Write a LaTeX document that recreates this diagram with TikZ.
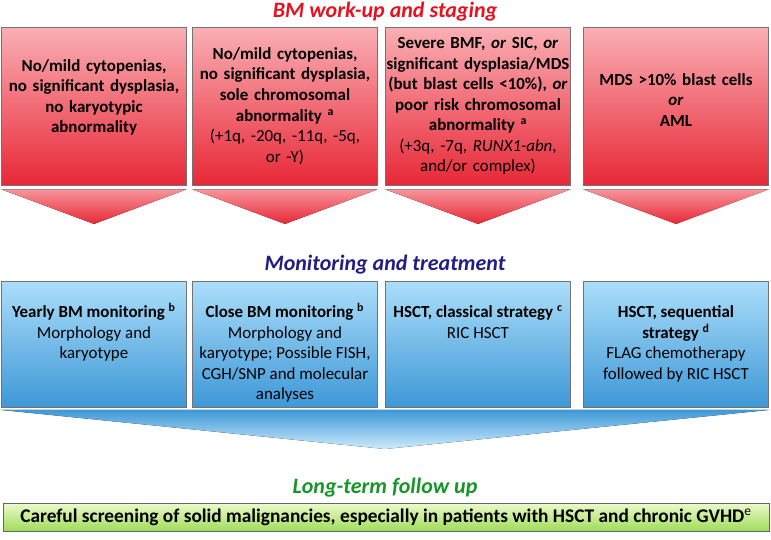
\documentclass[tikz,border=0pt]{standalone}
\usepackage{fontspec}
\setmainfont{Carlito}
\usetikzlibrary{positioning}
\definecolor{redtitle}{RGB}{232,18,30}
\definecolor{redtop}{RGB}{250,175,180}
\definecolor{redbot}{RGB}{232,40,55}
\definecolor{bluetitle}{RGB}{32,30,130}
\definecolor{bluetop}{RGB}{172,222,250}
\definecolor{bluebot}{RGB}{62,152,215}
\definecolor{greentitle}{RGB}{22,150,40}
\definecolor{greentop}{RGB}{236,250,205}
\definecolor{greenbot}{RGB}{160,220,90}
\newcommand{\fnote}[1]{\textsuperscript{#1}}
\newcommand{\montext}[1]{\parbox[c][94.5pt][t]{139pt}{\centering\rule{0pt}{27.5pt}#1}}
\begin{document}
\begin{tikzpicture}[x=0.75pt, y=-0.75pt,
    every node/.style={font=\fontsize{12.7}{15.4}\selectfont},
    title/.style={font=\fontsize{16.5}{19}\selectfont\bfseries\itshape},
    stagebox/.style={draw=black!55, top color=redtop, bottom color=redbot,
        minimum width=139pt, minimum height=118.5pt, inner xsep=0pt,
        text width=139pt, align=center},
    monbox/.style={draw=black!55, top color=bluetop, bottom color=bluebot,
        minimum width=139pt, minimum height=94.5pt, inner sep=0pt},
    redtip/.style={top color=redtop!80!redbot, bottom color=redbot},
    bluetip/.style={top color=bluebot, bottom color=bluetop!60}]
\useasboundingbox (0,0) rectangle (771,539);

\node[title, text=redtitle] (t1) at (385,12) {BM work-up and staging};
\node[stagebox] (s1) at (94,106) {\bfseries No/mild cytopenias,\\ no significant dysplasia,\\ no karyotypic\\ abnormality\rule[-15pt]{0pt}{15pt}};
\node[stagebox] (s2) at (285,106) {{\bfseries No/mild cytopenias,\\ no significant dysplasia,\\ sole chromosomal\\ abnormality \fnote{a}}\\ (+1q, -20q, -11q, -5q,\\ or -Y)};
\node[stagebox] (s3) at (478,106) {{\bfseries Severe BMF, \textit{or} SIC, \textit{or}\\ significant dysplasia/MDS\\ (but blast cells <10\%), \textit{or}\\ poor risk chromosomal\\ abnormality \fnote{a}}\\ (+3q, -7q, \textit{RUNX1-abn},\\ and/or complex)};
\node[stagebox] (s4) at (676,106) {\bfseries MDS >10\% blast cells\\ \textit{or}\\ AML\rule[-9pt]{0pt}{9pt}};
\foreach \s in {s1,s2,s3,s4}
  \fill[redtip] ([yshift=-3pt]\s.south west) -- ([yshift=-3pt]\s.south east)
      -- ([yshift=-29pt]\s.south) -- cycle;

\node[title, text=bluetitle] (t2) at (385,265) {Monitoring and treatment};
\node[monbox] (m1) at (94,344) {\montext{\textbf{Yearly BM monitoring \fnote{b}}\\ Morphology and\\ karyotype}};
\node[monbox] (m2) at (285,344) {\montext{\textbf{Close BM monitoring \fnote{b}}\\ Morphology and\\ karyotype; Possible FISH,\\ CGH/SNP and molecular\\ analyses}};
\node[monbox] (m3) at (478,344) {\montext{\textbf{HSCT, classical strategy \fnote{c}}\\ RIC HSCT}};
\node[monbox] (m4) at (676,344) {\montext{\textbf{HSCT, sequential\\ strategy \fnote{d}}\\ FLAG chemotherapy\\ followed by RIC HSCT}};
\coordinate (mtip) at (385,449);
\fill[bluetip] ([yshift=-2pt]m1.south west) -- ([yshift=-2pt]m4.south east) -- (mtip) -- cycle;

\node[title, text=greentitle] (t3) at (385,488) {Long-term follow up};
\node[draw=black!60, top color=greentop, bottom color=greenbot,
    minimum width=574.5pt, minimum height=21pt, inner sep=1pt, font=\fontsize{14.5}{16}\selectfont\bfseries]
    (f1) at (386,517) {Careful screening of solid malignancies, especially in patients with HSCT and chronic GVHD{\mdseries\fnote{e}}};
\end{tikzpicture}
\end{document}
